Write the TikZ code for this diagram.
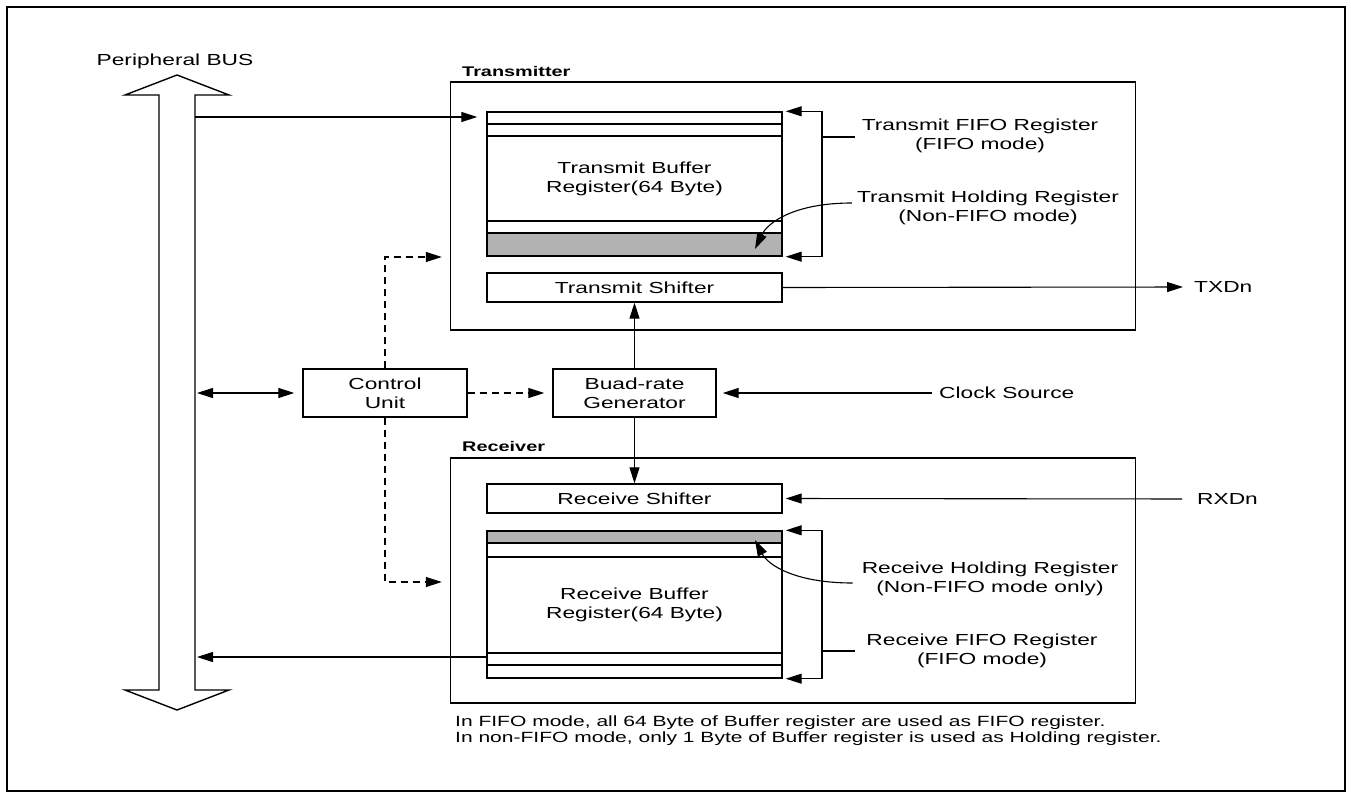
\documentclass[tikz,border=0pt]{standalone}
\usepackage{fontspec}
\setmainfont{Liberation Sans}[FakeStretch=1.42]
\usetikzlibrary{arrows.meta, positioning, calc}

\tikzset{
  blk/.style={draw, line width=1.4pt, inner sep=0pt, align=center, font=\fontsize{16}{19}\selectfont},
  frm/.style={draw, line width=1.4pt, inner sep=0pt},
  lbl/.style={align=center, inner sep=0pt, font=\fontsize{16}{19}\selectfont},
  ttl/.style={anchor=west, inner sep=0pt, font=\fontsize{14}{16}\bfseries},
  rl/.style={line width=1.1pt},
  shd/.style={fill=black!30},
  tip/.tip={Triangle[length=16pt,width=10pt]},
  arr/.style={-tip, line width=1.1pt},
  darr/.style={arr, dash pattern=on 7pt off 5pt},
}

\begin{document}
\begin{tikzpicture}[x=1pt, y=-1pt]
\useasboundingbox (0,0) rectangle (1351,797);
\draw[line width=2pt] (7,7) rectangle (1345,791);

% peripheral bus
\draw[line width=1.4pt] (159,95) -- (125,95) -- (177,75) -- (229,95) -- (195,95)
  -- (195,690) -- (229,690) -- (177,710) -- (125,690) -- (159,690) -- cycle;
\node[lbl] (busname) at (175,61) {Peripheral BUS};
\coordinate (bustx) at (195,117);
\coordinate (busctl) at (197,393);
\coordinate (busrx) at (197,657);

% transmitter / receiver frames
\node[frm, minimum width=685pt, minimum height=248pt] (txbox) at (793,206) {};
\node[ttl] (txname) at (462,71) {Transmitter};
\node[frm, minimum width=685pt, minimum height=245pt] (rxbox) at (793,580.5) {};
\node[ttl] (rxname) at (462,446) {Receiver};

% buffers and shifters
\node[blk, minimum width=295pt, minimum height=144pt] (txbuf) at (634.5,184) {};
\node[lbl] at (634.5,178.5) {Transmit Buffer\\Register(64 Byte)};
\node[blk, minimum width=295pt, minimum height=29pt] (txshift) at (634.5,287.5) {Transmit Shifter};
\node[blk, minimum width=295pt, minimum height=29pt] (rxshift) at (634.5,498.5) {Receive Shifter};
\node[blk, minimum width=295pt, minimum height=147pt] (rxbuf) at (634.5,604.5) {};
\node[lbl] at (634.5,605) {Receive Buffer\\Register(64 Byte)};

\fill[shd] (488,233.5) rectangle (781,255.3);
\fill[shd] (488,531.7) rectangle (781,543);
\foreach \yy in {124,136,221,233}
  \draw[rl] (txbuf.west |- 0,\yy) -- (txbuf.east |- 0,\yy);
\foreach \yy in {543,557,653,665}
  \draw[rl] (rxbuf.west |- 0,\yy) -- (rxbuf.east |- 0,\yy);

\node[blk, minimum width=164pt, minimum height=48pt] (ctrl) at (385,393) {Control\\Unit};
\node[blk, minimum width=163pt, minimum height=48pt] (baud) at (634.5,393) {Buad-rate\\Generator};

% side labels
\node[lbl] (txfifo) at (980,136) {Transmit FIFO Register\\(FIFO mode)};
\node[lbl] (txhold) at (988,208) {Transmit Holding Register\\(Non-FIFO mode)};
\node[lbl] (rxhold) at (990,579) {Receive Holding Register\\(Non-FIFO mode only)};
\node[lbl] (rxfifo) at (982,651) {Receive FIFO Register\\(FIFO mode)};
\node[lbl, anchor=west] (txd) at (1194,287) {TXDn};
\node[lbl, anchor=west] (rxd) at (1197,499) {RXDn};
\node[lbl, anchor=west] (clk) at (939,393) {Clock Source};

% brackets
\coordinate (txbr) at (822,137);
\coordinate (rxbr) at (822,651);
\draw[rl] (txfifo.west |- txbr) ++(-7,0) -- (txbr);
\draw[arr] (txbr) |- ($(txbuf.north east)+(3,0)$);
\draw[arr] (txbr) |- ($(txbuf.south east)+(3,0)$);
\draw[rl] (rxfifo.west |- rxbr) ++(-11,0) -- (rxbr);
\draw[arr] (rxbr) |- ($(rxbuf.north east)+(3,0)$);
\draw[arr] (rxbr) |- ($(rxbuf.south east)+(3,0)$);

% holding register pointers
\draw[arr] ($(txhold.west)+(-5,-5)$) .. controls (795,203) and (768,222) .. (755,249);
\draw[arr] ($(rxhold.west)+(-9,4)$) .. controls (795,583) and (768,565) .. (755,540);

% data paths
\draw[arr] (bustx) -- ($(txbuf.west |- bustx)+(-9,0)$);
\draw[arr, shorten >=11pt] (txshift.east) -- (txd.west);
\draw[arr, shorten <=15pt, shorten >=3pt] (rxd.west) -- (rxshift.east);
\draw[arr, shorten <=7pt, shorten >=6pt] (clk.west) -- (baud.east);
\draw[arr] (baud.north) -- (txshift.south);
\draw[arr] (baud.south) -- (rxshift.north);
\draw[arr] (rxbuf.west |- busrx) -- (busrx);
\draw[tip-tip, line width=1.1pt, shorten >=8pt] (busctl) -- (ctrl.west);

% control lines
\draw[darr, shorten >=8pt] (ctrl.east) -- (baud.west);
\draw[darr, shorten >=8pt] (ctrl.north) |- (txbox.west |- 0,257);
\draw[darr, shorten >=8pt] (ctrl.south) |- (rxbox.west |- 0,582);

% note
\node[anchor=north west, align=left, inner sep=0pt, font=\fontsize{14.8}{15.5}\selectfont] (note) at (455,716)
  {In FIFO mode, all 64 Byte of Buffer register are used as FIFO register.\\
   In non-FIFO mode, only 1 Byte of Buffer register is used as Holding register.};
\end{tikzpicture}
\end{document}
